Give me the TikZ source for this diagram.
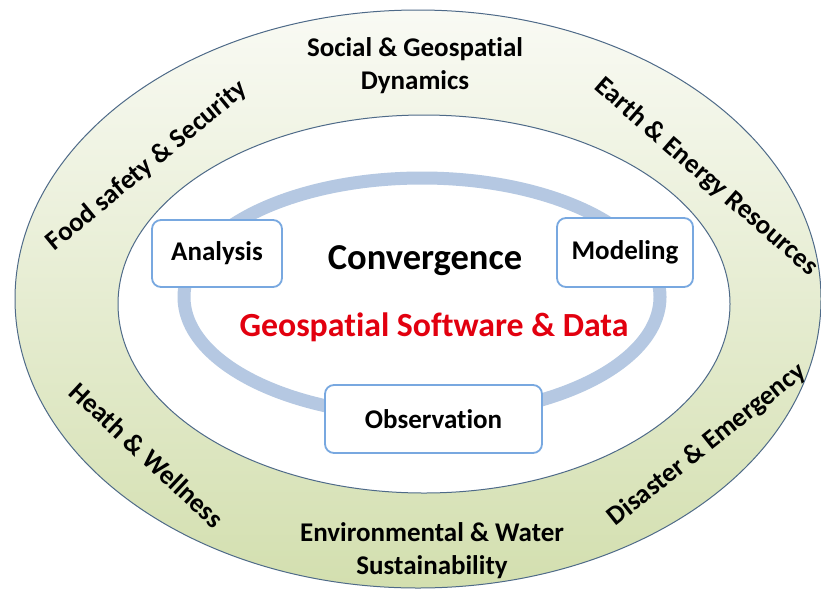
\documentclass[tikz,border=0pt]{standalone}
\usepackage{fontspec}
\setmainfont{Carlito}[Ligatures={NoCommon}]
\definecolor{ringtop}{HTML}{F9FAF4}
\definecolor{ringbot}{HTML}{D3DFAF}
\definecolor{ringline}{HTML}{4E6A88}
\definecolor{loopblue}{HTML}{B5C8E2}
\definecolor{boxblue}{HTML}{78A8E0}
\definecolor{titlered}{HTML}{E2000F}
\tikzset{
  stagebox/.style={draw=boxblue, line width=1.8pt, fill=white, rounded corners=9pt,
    font=\bfseries\fontsize{27}{30}\selectfont, inner sep=0pt},
  themelabel/.style={font=\bfseries\fontsize{27}{33}\selectfont, align=center, inner sep=0pt},
}
\begin{document}
\begin{tikzpicture}[x=1pt,y=-1pt]
\useasboundingbox (0,0) rectangle (821,595);
% outer application ring
\shade[top color=ringtop, bottom color=ringbot] (418,299) ellipse [x radius=403, y radius=289];
\draw[ringline, line width=1pt] (418,299) ellipse [x radius=403, y radius=289];
% inner core area
\draw[ringline, line width=1pt, fill=white] (424,304) ellipse [x radius=306, y radius=189];
% convergence loop
\draw[loopblue, line width=13pt] (422,297) ellipse [x radius=238, y radius=119];
% stages on the loop
\node[stagebox, minimum width=130pt, minimum height=67pt] (analysis) at (217,253.5) {Analysis};
\node[stagebox, minimum width=136pt, minimum height=69pt] (modeling) at (625,252.5) {Modeling};
\node[stagebox, minimum width=217pt, minimum height=68pt] (observation) at (433.5,419) {Observation};
% centre titles
\node[font=\bfseries\fontsize{36.5}{40}\selectfont] (conv) at (425,261) {Convergence};
\node[font=\bfseries\fontsize{33.8}{38}\selectfont, text=titlered] (geo) at (434,327) {Geospatial Software \& Data};
% application themes
\node[themelabel] (social) at (415,66) {Social \& Geospatial\\Dynamics};
\node[themelabel] (env) at (432,551) {Environmental \& Water\\Sustainability};
\node[themelabel, rotate=39.5] (food) at (147,166) {Food safety \& Security};
\node[themelabel, rotate=-41] (earth) at (706,177) {Earth \& Energy Resources};
\node[themelabel, rotate=-43] (health) at (147,455) {Heath \& Wellness};
\node[themelabel, rotate=38.5] (disaster) at (707,445) {Disaster \& Emergency};
\end{tikzpicture}
\end{document}
